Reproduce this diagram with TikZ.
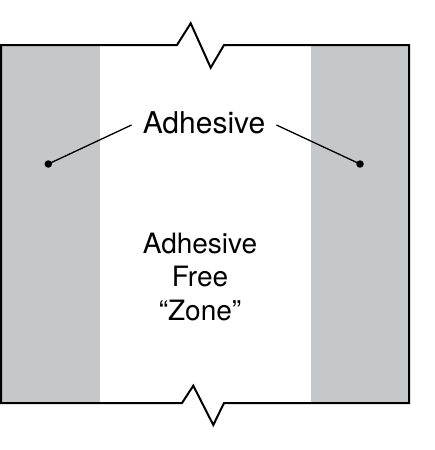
\documentclass[tikz,border=0pt]{standalone}
\usepackage{fontspec}
\setmainfont{TeX Gyre Heros}
\definecolor{adhgray}{HTML}{C6C7C9}
\begin{document}
\begin{tikzpicture}[x=1pt,y=-1pt,
  outline/.style={draw=black,line width=2pt,line join=miter},
  strip/.style={fill=adhgray,draw=none},
  leader/.style={draw=black,line width=1.3pt},
  dotmark/.style={circle,fill=black,inner sep=0pt,minimum size=7.5pt},
  lbl/.style={font=\fontsize{30}{36}\selectfont,inner xsep=11pt,inner ysep=0pt},
  midlbl/.style={font=\fontsize{28}{33.5}\selectfont,align=center,inner sep=0pt}]
\useasboundingbox (0,0) rectangle (435,450);
\fill[white] (0,0) rectangle (435,450);
% adhesive strips
\path[strip] (2,45) rectangle (100,403);
\path[strip] (311,45) rectangle (408,403);
% outline with break marks
\draw[outline] (177,45) -- (1,45) -- (1,403) -- (182,403) -- (193.3,385.7)
  -- (213.3,425) -- (224,403) -- (409,403) -- (409,45) -- (224,45)
  -- (210.7,67.7) -- (190.7,23.3) -- cycle;
% labels
\node[lbl] (top) at (204,122.5) {Adhesive};
\node[midlbl] (mid) at (200,276.5) {Adhesive\\Free\\“Zone”};
% dots
\node[dotmark] (dl) at (48.3,164) {};
\node[dotmark] (dr) at (360,164) {};
\draw[leader] ([yshift=-2.5pt]top.west) -- (dl.center);
\draw[leader] ([yshift=-2.5pt]top.east) -- (dr.center);
\end{tikzpicture}
\end{document}
